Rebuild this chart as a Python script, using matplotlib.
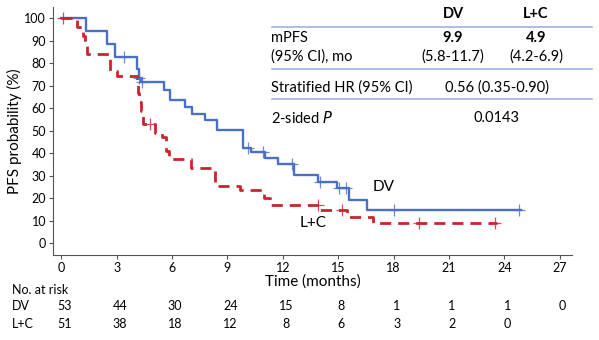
import numpy as np
import matplotlib.pyplot as plt

plt.rcParams['font.family'] = ['Lato', 'DejaVu Sans']

# Kaplan-Meier curves (months, PFS %)
dv_times = [0, 1.35, 2.5, 2.9, 4.1, 4.2, 4.3, 5.55, 5.9, 6.7, 7.1, 7.8, 8.45,
            9.85, 10.3, 11.05, 11.75, 12.6, 13.9, 14.95, 15.6, 16.55]
dv_surv = [100, 94.3, 88.7, 83.0, 77.5, 73.5, 71.7, 68.0, 63.8, 60.7, 57.5, 54.7, 50.5,
           42.5, 40.5, 38.0, 35.2, 30.2, 27.3, 24.3, 19.1, 14.7]
dv_end = 24.9
dv_cens_t = [3.4, 4.2, 4.35, 10.1, 10.9, 12.5, 14.0, 15.05, 15.4, 18.0, 24.8]

lc_times = [0, 0.85, 1.2, 1.3, 1.4, 2.65, 3.0, 4.1, 4.15, 4.2, 4.3, 4.4, 5.1, 5.45,
            5.65, 5.85, 7.0, 8.3, 9.7, 11.0, 11.3, 14.0, 15.5, 16.9]
lc_surv = [100, 96.1, 92.2, 88.2, 84.3, 76.5, 74.5, 70.6, 66.7, 62.7, 58.8, 53.0, 49.0, 47.0,
           41.2, 37.3, 33.3, 25.5, 23.5, 20.0, 16.9, 14.7, 11.7, 8.8]
lc_end = 23.6
lc_cens_t = [0.1, 4.8, 13.9, 15.2, 19.4, 23.5]

ticks = [0, 3, 6, 9, 12, 15, 18, 21, 24, 27]
dv_risk = [53, 44, 30, 24, 15, 8, 1, 1, 1, 0]
lc_risk = [51, 38, 18, 12, 8, 6, 3, 2, 0]

blue = '#4A6FC4'
red = '#C8262E'


def surv_at(times, surv, t):
    i = np.searchsorted(times, t, side='right') - 1
    return surv[i]


fig = plt.figure(figsize=(5.99, 3.40), dpi=100)
ax = fig.add_axes([0.0885, 0.25, 0.866, 0.729])

ax.step(dv_times + [dv_end], dv_surv + [dv_surv[-1]], where='post', color=blue, lw=1.7)
ax.step(lc_times + [lc_end], lc_surv + [lc_surv[-1]], where='post', color=red, lw=2.0,
        dashes=(4, 2.5))
ax.plot(dv_cens_t, [surv_at(dv_times, dv_surv, t) for t in dv_cens_t], '+',
        color=blue, ms=8, mew=0.9, alpha=0.8)
ax.plot(lc_cens_t, [surv_at(lc_times, lc_surv, t) for t in lc_cens_t], '+',
        color=red, ms=8, mew=0.9, alpha=0.8)

ax.text(16.85, 25, 'DV', fontsize=11, va='center')
ax.text(12.9, 8.8, 'L+C', fontsize=11, va='center')

ax.set_xlim(-0.45, 27.65)
ax.set_ylim(-5.3, 105)
ax.set_xticks(ticks)
ax.set_yticks(range(0, 101, 10))
ax.tick_params(labelsize=9, length=3, color='#555555', pad=2)
ax.spines['top'].set_visible(False)
ax.spines['right'].set_visible(False)
ax.spines['left'].set_color('#555555')
ax.spines['bottom'].set_color('#555555')
ax.set_ylabel('PFS probability (%)', fontsize=11, labelpad=2)
ax.set_xlabel('Time (months)', fontsize=11, labelpad=0)

# summary table
W, H = 599, 340
def ft(x, y, s, **kw):
    fig.text(x / W, 1 - y / H, s, va='center', fontsize=10.5, **kw)

ft(453, 14, 'DV', ha='center', weight='bold')
ft(536, 14, 'L+C', ha='center', weight='bold')
ft(271, 38, 'mPFS', ha='left')
ft(453, 38, '9.9', ha='center', weight='bold')
ft(536, 38, '4.9', ha='center', weight='bold')
ft(271, 57, '(95% CI), mo', ha='left')
ft(453, 57, '(5.8-11.7)', ha='center')
ft(536, 57, '(4.2-6.9)', ha='center')
ft(271, 88, 'Stratified HR (95% CI)', ha='left')
ft(497, 88, '0.56 (0.35-0.90)', ha='center')
ft(271, 118, '2-sided $\\it{P}$', ha='left')
ft(497, 118, '0.0143', ha='center')
for y in [27, 69, 99]:
    fig.add_artist(plt.Line2D([272 / W, 592 / W], [1 - y / H] * 2, color='#9DB3DE', lw=1.2))

# number at risk table
fig.text(12 / W, 1 - 290 / H, 'No. at risk', fontsize=9, va='center')
fig.text(12 / W, 1 - 306 / H, 'DV', fontsize=9, va='center')
fig.text(12 / W, 1 - 324 / H, 'L+C', fontsize=9, va='center')
for t, n in zip(ticks, dv_risk):
    x = ax.transData.transform((t, 0))[0] / fig.bbox.width
    fig.text(x + 3 / W, 1 - 306 / H, str(n), fontsize=9, ha='center', va='center')
for t, n in zip(ticks, lc_risk):
    x = ax.transData.transform((t, 0))[0] / fig.bbox.width
    fig.text(x + 3 / W, 1 - 324 / H, str(n), fontsize=9, ha='center', va='center')

fig.savefig('out.png', dpi=100)
